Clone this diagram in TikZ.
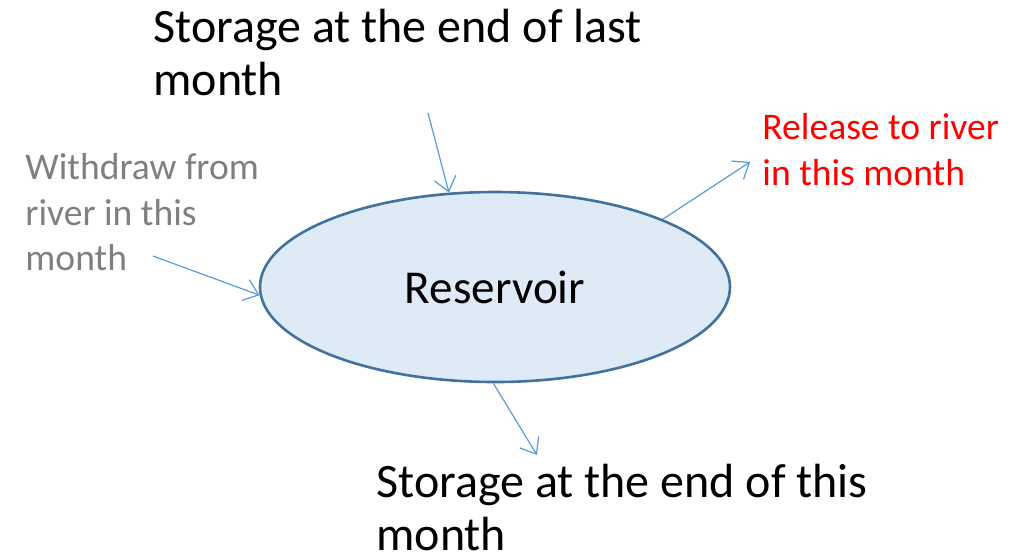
\documentclass[tikz,border=0pt]{standalone}
\usepackage{fontspec}
\setmainfont{Carlito}
\usetikzlibrary{shapes.geometric,arrows.meta}

\definecolor{flowblue}{HTML}{5B9BD5}
\definecolor{resfill}{HTML}{DEEAF6}
\definecolor{resline}{HTML}{41719C}
\definecolor{textgray}{HTML}{7F7F7F}

\tikzset{
	flow/.style={draw=flowblue,line width=0.6pt,-{Straight Barb[length=7pt,width=11pt]}},
	bigtext/.style={anchor=north west,align=left,inner sep=0pt,font=\fontsize{24}{26.6}\selectfont},
	smalltext/.style={anchor=north west,align=left,inner sep=0pt,font=\fontsize{18.8}{22.8}\selectfont}
}

\begin{document}
\begin{tikzpicture}[x=0.5pt,y=-0.5pt]
	\useasboundingbox (0,0) rectangle (1020,554);
	
	\node[ellipse,draw=resline,fill=resfill,line width=1.3pt,minimum width=235pt,minimum height=95pt,font=\fontsize{23.6}{26}\selectfont] (res) at (495,287) {Reservoir};
	
	\node[bigtext] (last) at (153,9) {Storage at the end of last\\month};
	\node[bigtext] (this) at (376,464) {Storage at the end of this\\month};
	\node[smalltext,text=textgray] (withdraw) at (25,153) {Withdraw from\\river in this\\month};
	\node[smalltext,text=red] (release) at (762,113) {Release to river\\in this month};
	
	\coordinate (lastend) at (428,113);
	\coordinate (thisend) at (537,455);
	\coordinate (withdrawend) at (153,256);
	\coordinate (releaseend) at (750,162);
	
	\draw[flow] (lastend) -- (res.116);
	\draw[flow] (res.22) -- (releaseend);
	\draw[flow] (withdrawend) -- (res.182);
	\draw[flow] (res.269) -- (thisend);
\end{tikzpicture}
\end{document}
